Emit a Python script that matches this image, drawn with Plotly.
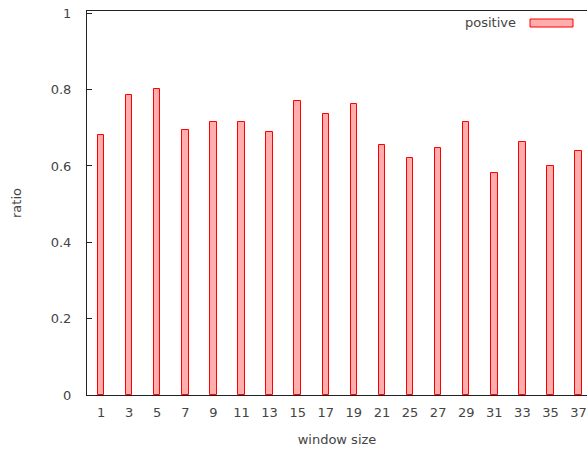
import plotly.graph_objects as go

window_sizes = ["1", "3", "5", "7", "9", "11", "13", "15", "17", "19", "21",
                "25", "27", "29", "31", "33", "35", "37"]
positive = [0.681, 0.787, 0.802, 0.695, 0.714, 0.714, 0.689, 0.769, 0.736,
            0.762, 0.655, 0.622, 0.648, 0.714, 0.582, 0.663, 0.600, 0.640]
y_ticks = [0, 0.2, 0.4, 0.6, 0.8, 1]
y_tick_text = ["0", "0.2", "0.4", "0.6", "0.8", "1"]
series_name = "positive"

positions = list(range(len(window_sizes)))

FONT = dict(family="DejaVu Sans", size=13, color="#444444")
LINE = "#222222"
X_RANGE = [-0.5, 17.3]

fig = go.Figure()
fig.add_trace(go.Bar(
    x=positions, y=positive, name=series_name, width=0.23,
    marker=dict(color="rgba(255,0,0,0.32)", line=dict(color="#ff0000", width=1)),
    showlegend=False,
))

fig.update_layout(
    width=587, height=454,
    margin=dict(l=87, r=0, t=11, b=59),
    paper_bgcolor="white", plot_bgcolor="white",
    font=FONT,
    xaxis=dict(
        range=X_RANGE, tickmode="array", tickvals=positions, ticktext=window_sizes,
        ticks="", showline=True, linecolor=LINE,
        linewidth=1, mirror=True, showgrid=False, zeroline=False,
        ticklabelstandoff=5,
        title=dict(text="window size", font=FONT, standoff=16),
    ),
    xaxis2=dict(
        range=X_RANGE, tickmode="array", tickvals=positions,
        overlaying="x", side="top", anchor="y",
        ticks="inside", ticklen=5, tickcolor=LINE, showticklabels=False,
        showline=False, showgrid=False, zeroline=False,
    ),
    yaxis=dict(
        range=[0, 1.006], tickmode="array", tickvals=y_ticks, ticktext=y_tick_text,
        ticks="inside", ticklen=5, tickcolor=LINE, showline=True, linecolor=LINE,
        linewidth=1, mirror=False, showgrid=False, zeroline=False,
        ticklabelstandoff=12,
        title=dict(text="ratio", font=FONT, standoff=26),
    ),
    bargap=0,
)

# legend entry (gnuplot style: text then wide swatch on the right)
fig.add_annotation(text=series_name, xref="paper", yref="paper",
                   x=(518 - 87) / 500, y=1 - (22 - 11) / 384,
                   xanchor="right", yanchor="middle", showarrow=False, font=FONT)
fig.add_shape(type="rect", xref="paper", yref="paper",
              x0=(530 - 87) / 500, x1=(573 - 87) / 500,
              y0=1 - (27 - 11) / 384, y1=1 - (19 - 11) / 384,
              fillcolor="rgba(255,0,0,0.32)", line=dict(color="#ff0000", width=1))

fig.write_html("out.html", config={"displayModeBar": False},
               post_script="document.body.style.margin='0';document.body.style.overflow='hidden';")
